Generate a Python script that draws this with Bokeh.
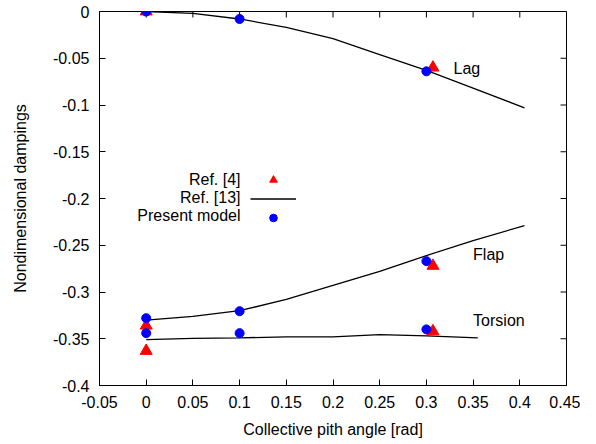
from bokeh.plotting import figure
from bokeh.models import (Range1d, FixedTicker, Legend, LegendItem, Label)
from bokeh.core.properties import value
from bokeh.embed import file_html
from bokeh.resources import INLINE

FONT = "Liberation Sans"

# Ref. [13] curves
lag_x = [0.0, 0.05, 0.1, 0.15, 0.2, 0.25, 0.3, 0.35, 0.405]
lag_y = [0.0, -0.002, -0.008, -0.017, -0.029, -0.046, -0.063, -0.082, -0.103]
flap_x = [0.0, 0.05, 0.1, 0.15, 0.2, 0.25, 0.3, 0.35, 0.405]
flap_y = [-0.330, -0.326, -0.320, -0.308, -0.293, -0.278, -0.261, -0.245, -0.229]
tors_x = [0.0, 0.05, 0.1, 0.15, 0.2, 0.25, 0.3, 0.355]
tors_y = [-0.351, -0.3495, -0.349, -0.348, -0.348, -0.3455, -0.347, -0.349]

# Ref. [4]
ref4_x = [0.0, 0.307, 0.0, 0.307, 0.0, 0.307]
ref4_y = [0.0, -0.060, -0.336, -0.272, -0.363, -0.342]

# Present model
pm_x = [0.0, 0.1, 0.3, 0.0, 0.1, 0.3, 0.0, 0.1, 0.3]
pm_y = [0.0, -0.008, -0.064, -0.328, -0.3205, -0.267, -0.344, -0.344, -0.340]

x_ticks = [-0.05, 0.0, 0.05, 0.1, 0.15, 0.2, 0.25, 0.3, 0.35, 0.4, 0.45]
x_labels = ["-0.05", "0", "0.05", "0.1", "0.15", "0.2", "0.25", "0.3", "0.35", "0.4", "0.45"]
y_ticks = [-0.4, -0.35, -0.3, -0.25, -0.2, -0.15, -0.1, -0.05, 0.0]
y_labels = ["-0.4", "-0.35", "-0.3", "-0.25", "-0.2", "-0.15", "-0.1", "-0.05", "0"]

curve_labels = ["Lag", "Flap", "Torsion"]
curve_label_x = [0.329, 0.350, 0.350]
curve_label_y = [-0.061, -0.260, -0.3305]

legend_labels = ["Ref. [4]", "Ref. [13]", "Present model"]

X0, X1 = x_ticks[0], x_ticks[-1]
Y0, Y1 = y_ticks[0], y_ticks[-1]
FW, FH = 467, 374

p = figure(frame_width=FW, frame_height=FH, output_backend="svg", toolbar_location=None,
           x_range=Range1d(X0, X1), y_range=Range1d(Y0, Y1),
           min_border_left=99, min_border_right=14, min_border_top=11, min_border_bottom=55,
           x_axis_label="Collective pith angle [rad]", y_axis_label="Nondimensional dampings")
p.grid.visible = False
p.outline_line_color = "black"
p.outline_line_width = 1

def style_axis(ax, ticks, labels):
    ax.ticker = FixedTicker(ticks=ticks)
    ax.major_label_overrides = {t: l for t, l in zip(ticks, labels)}
    ax.major_tick_in = 6
    ax.major_tick_out = 0
    ax.minor_tick_line_color = None
    ax.axis_line_color = "black"
    ax.axis_line_width = 1
    ax.major_tick_line_color = "black"
    ax.major_tick_line_width = 1
    ax.major_label_text_font = FONT
    ax.major_label_text_font_size = "16px"
    ax.major_label_text_color = "black"
    ax.axis_label_text_font = FONT
    ax.axis_label_text_font_size = "16px"
    ax.axis_label_text_font_style = "normal"
    ax.axis_label_text_color = "black"

style_axis(p.xaxis[0], x_ticks, x_labels)
style_axis(p.yaxis[0], y_ticks, y_labels)
p.xaxis[0].major_label_standoff = 10
p.xaxis[0].axis_label_standoff = 10
p.yaxis[0].major_label_standoff = 10
p.yaxis[0].axis_label_standoff = 21

# mirrored inward ticks on top and right sides
tick_px = 6
dx = tick_px * (X1 - X0) / FW
dy = tick_px * (Y1 - Y0) / FH
tick_xs, tick_ys = [], []
for t in x_ticks:
    tick_xs.append([t, t])
    tick_ys.append([Y1, Y1 - dy])
for t in y_ticks:
    tick_xs.append([X1, X1 - dx])
    tick_ys.append([t, t])
p.multi_line(xs=tick_xs, ys=tick_ys, line_color="black", line_width=1)

r4 = p.scatter(ref4_x, ref4_y, marker="triangle", size=12, color="red", line_color="red")
lines = []
for xs, ys in [(lag_x, lag_y), (flap_x, flap_y), (tors_x, tors_y)]:
    lines.append(p.line(xs, ys, line_color="black", line_width=1.3))
pm = p.scatter(pm_x, pm_y, marker="circle", size=9, color="blue", line_color="blue")

legend = Legend(items=[LegendItem(label=value(" "), renderers=[r4]),
                       LegendItem(label=value(" "), renderers=[lines[0]]),
                       LegendItem(label=value(" "), renderers=[pm])],
                location=(151, 158), glyph_width=46, glyph_height=19, label_height=19,
                label_width=0, label_standoff=0, spacing=0, padding=0, margin=0,
                border_line_color=None, background_fill_alpha=0,
                label_text_font_size="1px")
p.add_layout(legend, "center")

for i, t in enumerate(legend_labels):
    p.add_layout(Label(x=141, y=206.5 - 18 * i, x_units="screen", y_units="screen",
                       text=t, text_align="right", text_baseline="middle",
                       text_font=FONT, text_font_size="16px", text_color="black"))

for t, lx, ly in zip(curve_labels, curve_label_x, curve_label_y):
    p.add_layout(Label(x=lx, y=ly, text=t, text_align="left", text_baseline="middle",
                       text_font=FONT, text_font_size="16px", text_color="black"))

open("out.html", "w").write(file_html(p, INLINE))
